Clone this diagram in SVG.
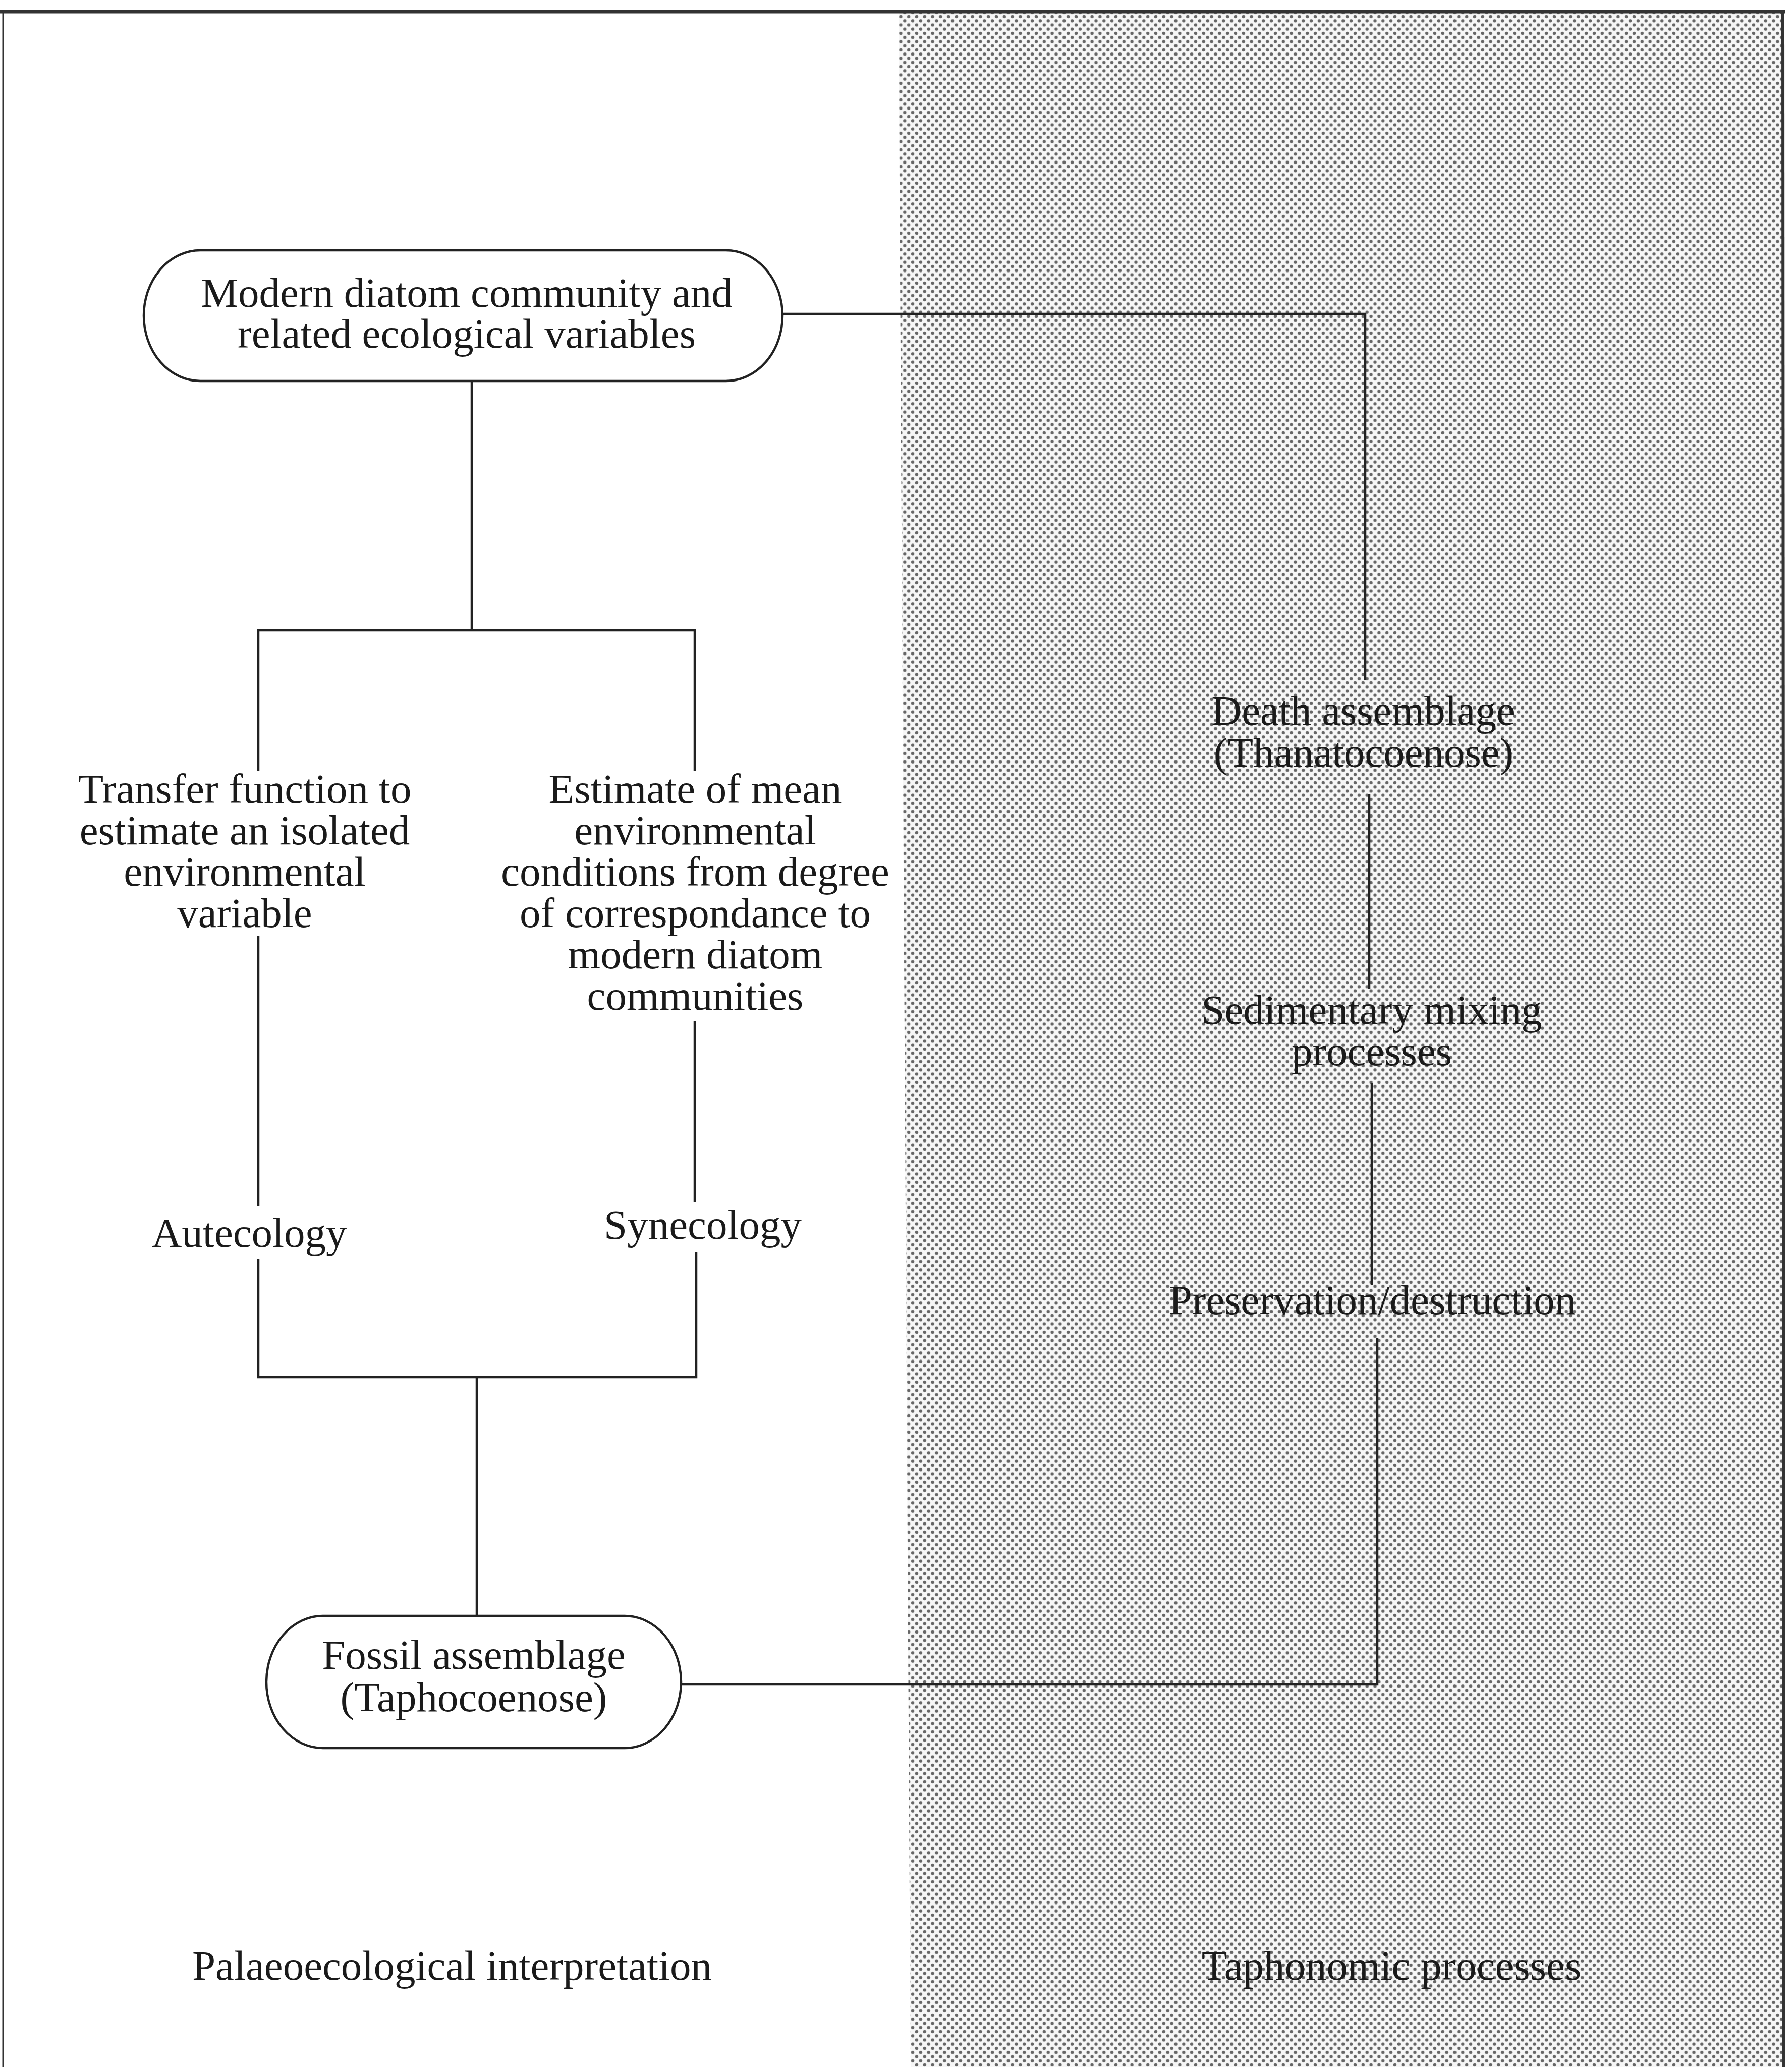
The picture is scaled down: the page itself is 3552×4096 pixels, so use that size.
<svg xmlns="http://www.w3.org/2000/svg" width="3552" height="4096" viewBox="0 0 3552 4096">
<style>
text{font-family:"Liberation Serif","Times New Roman",serif;font-size:83px;fill:#1a1a1a;text-anchor:middle}
.box{fill:#fff;stroke:#222;stroke-width:4.5}
.conn{fill:none;stroke:#222;stroke-width:4.5}
.frame{fill:none;stroke:#333}
</style>
<defs>
<pattern id="dots" width="15.8" height="16.5" patternUnits="userSpaceOnUse">
<rect width="15.8" height="16.5" fill="#f6f6f6"/>
<circle cx="0" cy="0" r="3.2" fill="#666"/>
<circle cx="15.8" cy="0" r="3.2" fill="#666"/>
<circle cx="0" cy="16.5" r="3.2" fill="#666"/>
<circle cx="15.8" cy="16.5" r="3.2" fill="#666"/>
<circle cx="7.9" cy="8.25" r="3.2" fill="#666"/>
</pattern>
</defs>
<rect width="3552" height="4096" fill="#fff"/>
<g id="background">
<polygon points="1781,26 3534,26 3534,4096 1805,4096" fill="url(#dots)"/>
<line class="frame" x1="0" y1="23" x2="3538" y2="23" stroke-width="7"/>
<line class="frame" x1="6" y1="20" x2="6" y2="4096" stroke-width="3"/>
<line class="frame" x1="3534" y1="20" x2="3536" y2="4096" stroke-width="6"/>
</g>
<g id="connectors">
<polyline class="conn" points="1551,622 2706,622 2706,1348" stroke-width="5.5"/>
<line class="conn" x1="2714" y1="1574" x2="2714" y2="1959"/>
<line class="conn" x1="2719" y1="2147" x2="2719" y2="2547"/>
<polyline class="conn" points="1350,3338 2730,3338 2730,2651" stroke-width="5.5"/>
<line class="conn" x1="935" y1="755" x2="935" y2="1249"/>
<polyline class="conn" points="512,1528 512,1249 1377,1249 1377,1528"/>
<line class="conn" x1="512" y1="1854" x2="512" y2="2390"/>
<line class="conn" x1="1377" y1="2024" x2="1377" y2="2382"/>
<polyline class="conn" points="512,2494 512,2729 1380,2729 1380,2481"/>
<line class="conn" x1="945" y1="2729" x2="945" y2="3202"/>
</g>
<g id="modern">
<rect class="box" x="285" y="496" width="1266" height="259" rx="112" ry="129.5"/>
<text x="925" y="608">Modern diatom community and<tspan x="925" dy="81">related ecological variables</tspan></text>
</g>
<g id="transfer">
<text x="485" y="1591">Transfer function to<tspan x="485" dy="82">estimate an isolated</tspan><tspan x="485" dy="82">environmental</tspan><tspan x="485" dy="82">variable</tspan></text>
</g>
<g id="estimate">
<text x="1378" y="1591">Estimate of mean<tspan x="1378" dy="82">environmental</tspan><tspan x="1378" dy="82">conditions from degree</tspan><tspan x="1378" dy="82">of correspondance to</tspan><tspan x="1378" dy="82">modern diatom</tspan><tspan x="1378" dy="82">communities</tspan></text>
</g>
<g id="autecology">
<text x="494" y="2471">Autecology</text>
</g>
<g id="synecology">
<text x="1393" y="2455">Synecology</text>
</g>
<g id="fossil">
<rect class="box" x="528" y="3202" width="822" height="262" rx="112" ry="131"/>
<text x="939" y="3307">Fossil assemblage<tspan x="939" dy="84">(Taphocoenose)</tspan></text>
</g>
<g id="death">
<text x="2702" y="1436">Death assemblage<tspan x="2703" dy="83">(Thanatocoenose)</tspan></text>
</g>
<g id="sedimentary">
<text x="2719" y="2029">Sedimentary mixing<tspan x="2719" dy="82">processes</tspan></text>
</g>
<g id="preservation">
<text x="2720" y="2604">Preservation/destruction</text>
</g>
<g id="palaeo">
<text x="896" y="3923">Palaeoecological interpretation</text>
</g>
<g id="taphonomic">
<text x="2758" y="3923">Taphonomic processes</text>
</g>
</svg>
